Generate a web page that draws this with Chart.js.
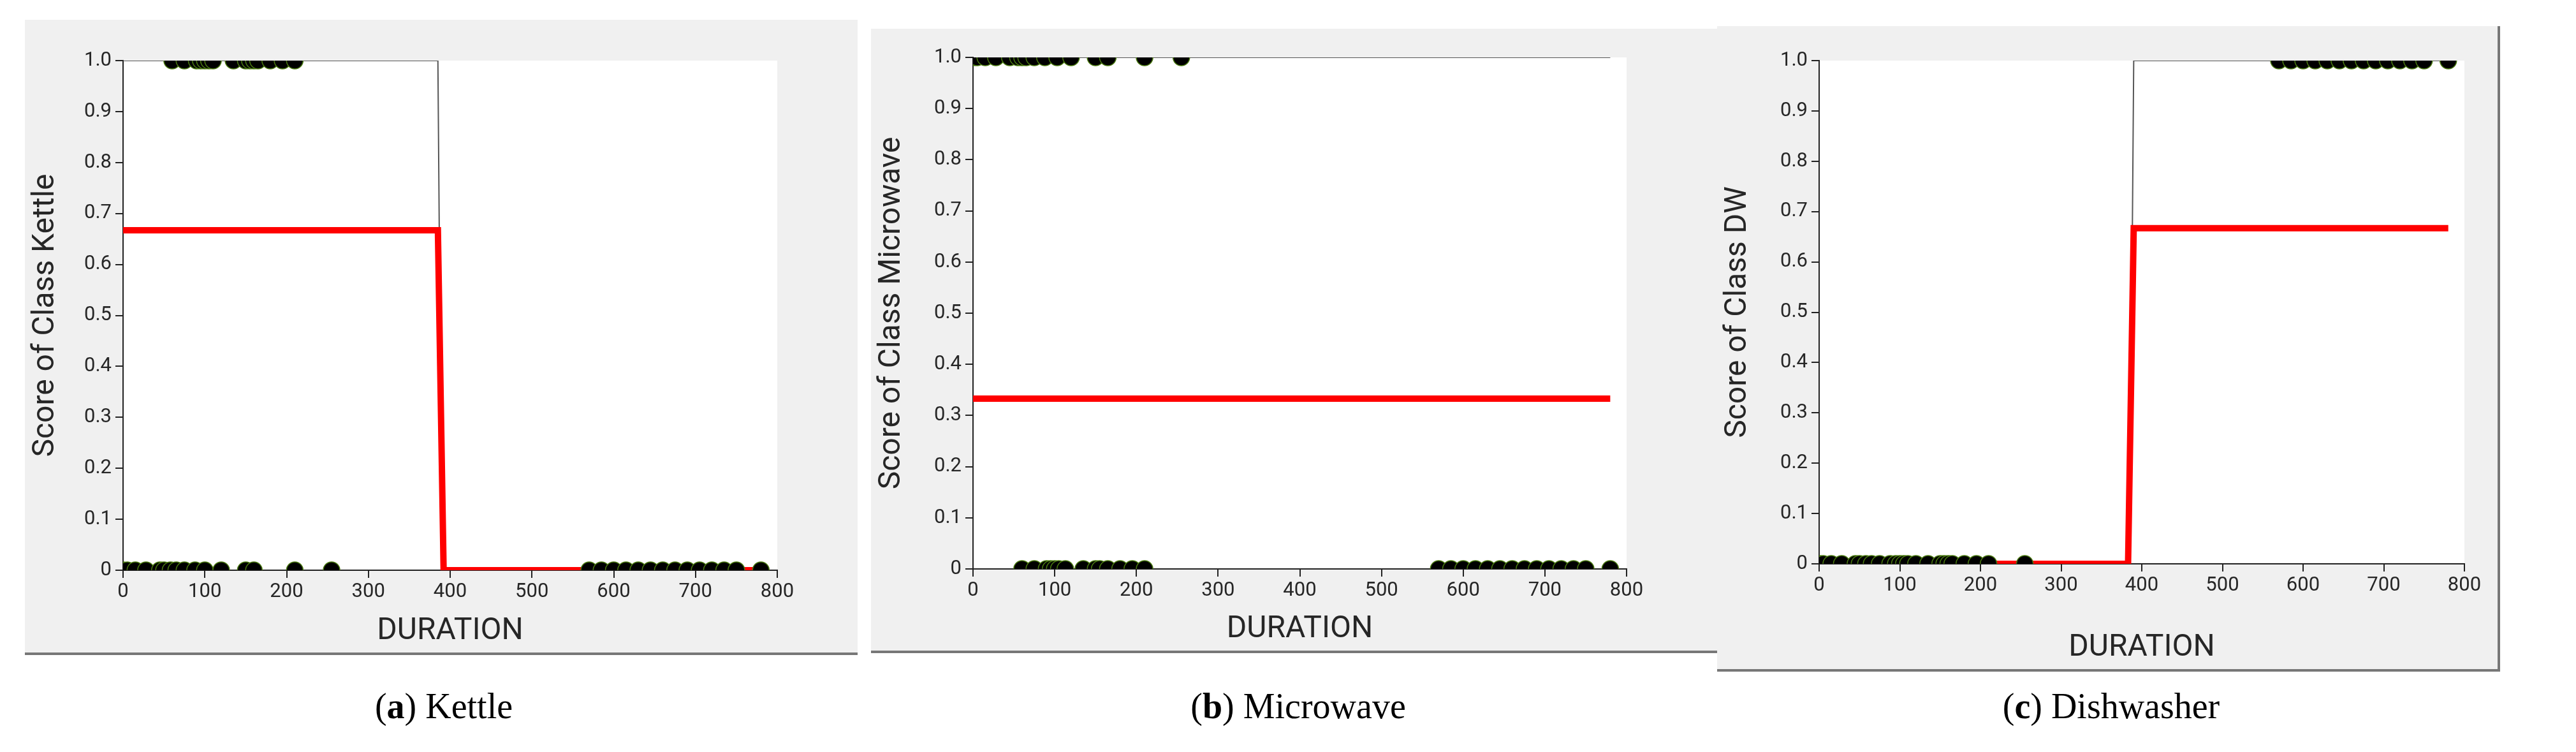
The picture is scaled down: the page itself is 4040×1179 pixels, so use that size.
<!DOCTYPE html>
<html>
<head>
<meta charset="utf-8">
<script src="https://cdn.jsdelivr.net/npm/chart.js@4.4.1/dist/chart.umd.min.js"></script>
<style>
  body { margin: 0; background: #fff; width: 4040px; height: 1179px; position: relative; overflow: hidden; }
  .panel { position: absolute; background: #f0f0f0; border-bottom: 4px solid #777; }
  .caption { position: absolute; font-family: 'Liberation Serif', serif; font-size: 56px; color: #000; transform: translateX(-50%); white-space: nowrap; }
</style>
</head>
<body>
<div class="panel" id="pa" style="left:39px;top:31px;width:1306px;height:992px"><canvas id="ca"></canvas></div>
<div class="panel" id="pb" style="left:1366px;top:45px;width:1332px;height:975px"><canvas id="cb"></canvas></div>
<div class="panel" id="pc" style="left:2693px;top:41px;width:1224px;height:1008px;border-right:4px solid #777"><canvas id="cc"></canvas></div>
<div class="caption" style="left:696px;top:1075px">(<b>a</b>) Kettle</div>
<div class="caption" style="left:2036px;top:1075px">(<b>b</b>) Microwave</div>
<div class="caption" style="left:3311px;top:1075px">(<b>c</b>) Dishwasher</div>
<script>
let xTicks = [0, 100, 200, 300, 400, 500, 600, 700, 800]
let yTicks = [0, 0.1, 0.2, 0.3, 0.4, 0.5, 0.6, 0.7, 0.8, 0.9, 1]

// Kettle
let kettleOnX = [60, 75, 90, 95, 100, 105, 110, 135, 150, 155, 160, 165, 180, 195, 210]
let kettleOffX = [0, 5, 15, 28, 45, 50, 58, 65, 75, 88, 100, 120, 150, 160, 210, 255, 570, 585, 600, 615, 630, 645, 660, 675, 690, 705, 720, 735, 750, 780]
let kettleTreeX = [0, 385, 390, 780]
let kettleTreeY = [1, 1, 0, 0]
let kettleScoreX = [0, 385, 392, 780]
let kettleScoreY = [0.667, 0.667, 0, 0]

// Microwave
let microOnX = [0, 5, 15, 28, 45, 55, 60, 65, 75, 88, 103, 120, 150, 165, 210, 255]
let microOffX = [60, 75, 90, 95, 100, 105, 113, 135, 150, 155, 165, 180, 195, 210, 570, 585, 600, 615, 630, 645, 660, 675, 690, 705, 720, 735, 750, 780]
let microTreeX = [0, 780]
let microTreeY = [1, 1]
let microScoreX = [0, 780]
let microScoreY = [0.333, 0.333]

// Dishwasher
let dwOnX = [570, 585, 600, 615, 630, 645, 660, 675, 690, 705, 720, 735, 750, 780]
let dwOffX = [0, 5, 15, 28, 45, 50, 58, 65, 75, 88, 95, 100, 105, 110, 120, 135, 150, 155, 160, 165, 180, 195, 210, 255]
let dwTreeX = [0, 385, 390, 780]
let dwTreeY = [0, 0, 1, 1]
let dwScoreX = [0, 383, 390, 780]
let dwScoreY = [0, 0, 0.667, 0.667]

function pts (xs, ys) {
  return xs.map(function (x, i) { return {x: x, y: ys[i]} })
}
function flat (xs, v) {
  return xs.map(function (x) { return {x: x, y: v} })
}

let whiteArea = {
  id: 'whiteArea',
  beforeDraw: function (chart) {
    let a = chart.chartArea
    let ctx = chart.ctx
    ctx.save()
    ctx.fillStyle = '#fff'
    ctx.fillRect(a.left, a.top, a.right - a.left, a.bottom - a.top)
    ctx.restore()
  }
}

function makeChart (id, w, h, pad, title, onX, offX, treeX, treeY, scoreX, scoreY) {
  let canvas = document.getElementById(id)
  canvas.width = w
  canvas.height = h
  canvas.style.width = w + 'px'
  canvas.style.height = h + 'px'
  let dot = {
    type: 'scatter', pointRadius: 13, pointBackgroundColor: '#000',
    pointBorderColor: '#4a7a10', pointBorderWidth: 1.5, order: 0
  }
  new Chart(canvas.getContext('2d'), {
    type: 'scatter',
    data: {
      datasets: [
        Object.assign({data: flat(onX, 1)}, dot),
        Object.assign({data: flat(offX, 0)}, dot),
        {type: 'line', data: pts(scoreX, scoreY), borderColor: '#ff0000', borderWidth: 10, pointRadius: 0, fill: false, order: 1},
        {type: 'line', data: pts(treeX, treeY), borderColor: '#555', borderWidth: 2, pointRadius: 0, fill: false, order: 2}
      ]
    },
    options: {
      responsive: false,
      animation: false,
      layout: {padding: {left: 0, right: pad.right, top: pad.top, bottom: 0}},
      plugins: {legend: {display: false}, tooltip: {enabled: false}},
      scales: {
        x: {
          type: 'linear', min: 0, max: 800,
          afterBuildTicks: function (s) { s.ticks = xTicks.map(function (v) { return {value: v} }) },
          afterFit: function (s) { s.height = pad.bottom },
          grid: {drawOnChartArea: false, color: '#222', tickLength: 12, lineWidth: 2},
          border: {color: '#222', width: 2},
          ticks: {color: '#262626', font: {family: 'Roboto', size: 31}, padding: 4},
          title: {display: true, text: 'DURATION', color: '#262626', font: {family: 'Roboto', size: 48}, padding: {top: 4}}
        },
        y: {
          min: 0, max: 1,
          afterBuildTicks: function (s) { s.ticks = yTicks.map(function (v) { return {value: v} }) },
          afterFit: function (s) { s.width = pad.left },
          grid: {drawOnChartArea: false, color: '#222', tickLength: 12, lineWidth: 2},
          border: {color: '#222', width: 2},
          ticks: {color: '#262626', font: {family: 'Roboto', size: 31}, padding: 6},
          title: {display: true, text: title, color: '#262626', font: {family: 'Roboto', size: 48}, padding: {bottom: 6}}
        }
      }
    },
    plugins: [whiteArea]
  })
}

makeChart('ca', 1306, 992, {left: 154, right: 126, top: 64, bottom: 129}, 'Score of Class Kettle',
  kettleOnX, kettleOffX, kettleTreeX, kettleTreeY, kettleScoreX, kettleScoreY)
makeChart('cb', 1332, 975, {left: 160, right: 147, top: 45, bottom: 128}, 'Score of Class Microwave',
  microOnX, microOffX, microTreeX, microTreeY, microScoreX, microScoreY)
makeChart('cc', 1224, 1008, {left: 160, right: 52, top: 54, bottom: 165}, 'Score of Class DW',
  dwOnX, dwOffX, dwTreeX, dwTreeY, dwScoreX, dwScoreY)
</script>
</body>
</html>
